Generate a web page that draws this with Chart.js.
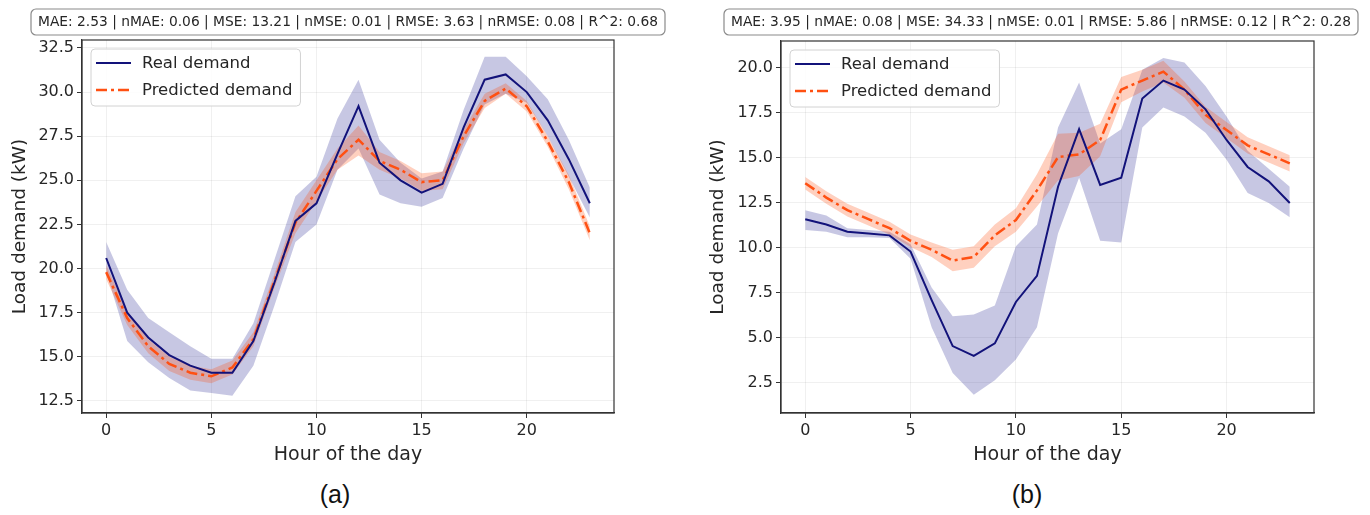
<!DOCTYPE html>
<html lang="en">
<head>
<meta charset="UTF-8">
<title>Load demand - real vs predicted</title>
<script src="https://cdn.jsdelivr.net/npm/chart.js"></script>
<style>
body { margin: 0; background: #fff; width: 1370px; height: 515px; position: relative; overflow: hidden; }
canvas { position: absolute; top: 0; }
#chartA { left: 0; }
#chartB { left: 690px; }
.sub { position: absolute; top: 480px; font-family: 'Liberation Sans', Arial, sans-serif; font-size: 25px; color: #111; transform: translateX(-50%); }
</style>
</head>
<body>
<canvas id="chartA" width="690" height="470"></canvas>
<canvas id="chartB" width="680" height="470"></canvas>
<div class="sub" style="left:335px">(a)</div>
<div class="sub" style="left:1027px">(b)</div>
<script>
var hours = [0, 1, 2, 3, 4, 5, 6, 7, 8, 9, 10, 11, 12, 13, 14, 15, 16, 17, 18, 19, 20, 21, 22, 23];

// (a)
var realA     = [20.6, 17.5, 16.1, 15.1, 14.5, 14.1, 14.1, 15.9, 19.2, 22.7, 23.7, 26.5, 29.2, 26.0, 25.0, 24.3, 24.8, 28.0, 30.7, 31.0, 30.0, 28.4, 26.2, 23.7];
var realALow  = [19.8, 15.9, 14.7, 13.8, 13.1, 12.95, 12.8, 14.5, 17.9, 21.5, 22.5, 25.6, 26.8, 24.2, 23.7, 23.5, 24.0, 26.8, 29.3, 29.9, 29.4, 27.5, 25.2, 22.9];
var realAHigh = [21.5, 18.8, 17.2, 16.4, 15.6, 14.9, 14.9, 16.9, 20.5, 24.1, 25.2, 28.5, 30.7, 27.3, 26.0, 25.1, 25.5, 29.0, 32.0, 32.0, 30.9, 29.6, 27.3, 24.6];
var predA     = [19.8, 17.2, 15.6, 14.6, 14.1, 13.9, 14.4, 16.0, 19.3, 22.6, 24.4, 26.2, 27.3, 26.1, 25.6, 24.9, 25.0, 27.5, 29.5, 30.2, 29.2, 27.2, 24.9, 22.0];
var predALow  = [19.4, 16.8, 15.2, 14.2, 13.7, 13.5, 14.0, 15.6, 18.9, 22.0, 23.8, 25.6, 26.4, 25.6, 25.1, 24.4, 24.5, 27.1, 29.1, 29.9, 28.9, 26.9, 24.5, 21.6];
var predAHigh = [20.2, 17.6, 16.0, 15.0, 14.5, 14.3, 14.8, 16.4, 19.7, 23.2, 25.0, 26.8, 28.1, 26.6, 26.1, 25.4, 25.5, 27.9, 29.9, 30.5, 29.5, 27.5, 25.3, 22.4];
var metricsA = 'MAE: 2.53 | nMAE: 0.06 | MSE: 13.21 | nMSE: 0.01 | RMSE: 3.63 | nRMSE: 0.08 | R^2: 0.68';

// (b)
var realB     = [11.6, 11.3, 10.9, 10.8, 10.7, 9.8, 7.1, 4.55, 4.0, 4.7, 7.0, 8.45, 13.4, 16.6, 13.5, 13.9, 18.3, 19.3, 18.8, 17.7, 16.0, 14.5, 13.7, 12.5];
var realBLow  = [11.0, 10.9, 10.6, 10.6, 10.55, 9.4, 5.6, 3.05, 1.85, 2.65, 3.8, 5.6, 10.8, 13.9, 10.4, 10.3, 16.7, 17.8, 17.3, 16.4, 14.9, 13.05, 12.5, 11.7];
var realBHigh = [12.1, 11.8, 11.1, 11.0, 10.9, 10.2, 7.8, 6.2, 6.3, 6.8, 10.1, 11.3, 16.7, 19.2, 15.8, 16.6, 19.9, 20.55, 20.3, 19.0, 17.3, 15.4, 14.4, 13.4];
var predB     = [13.6, 12.8, 12.1, 11.6, 11.1, 10.4, 9.9, 9.3, 9.5, 10.7, 11.55, 13.2, 15.05, 15.2, 16.0, 18.8, 19.3, 19.8, 18.8, 17.4, 16.55, 15.7, 15.2, 14.7];
var predBLow  = [13.25, 12.45, 11.75, 11.25, 10.75, 10.05, 9.5, 8.7, 8.9, 10.1, 10.9, 12.3, 13.75, 14.0, 15.1, 18.1, 18.7, 19.2, 18.35, 16.95, 16.1, 15.25, 14.75, 14.25];
var predBHigh = [13.95, 13.15, 12.45, 11.95, 11.45, 10.75, 10.3, 9.9, 10.1, 11.3, 12.2, 14.1, 16.35, 16.4, 16.9, 19.5, 19.9, 20.4, 19.25, 17.85, 17.0, 16.15, 15.65, 15.15];
var metricsB = 'MAE: 3.95 | nMAE: 0.08 | MSE: 34.33 | nMSE: 0.01 | RMSE: 5.86 | nRMSE: 0.12 | R^2: 0.28';

var NAVY = '#12127a';
var ORANGE = '#ff5012';
var NAVY_BAND = 'rgba(0,0,128,0.22)';
var ORANGE_BAND = 'rgba(255,69,0,0.25)';
var FONT = '"DejaVu Sans", sans-serif';
var TXT = '#262626';
var DASHDOT = [11, 4, 3, 4];

function roundRect(ctx, x, y, w, h, r) {
    ctx.beginPath();
    ctx.moveTo(x + r, y);
    ctx.lineTo(x + w - r, y);
    ctx.arcTo(x + w, y, x + w, y + r, r);
    ctx.lineTo(x + w, y + h - r);
    ctx.arcTo(x + w, y + h, x + w - r, y + h, r);
    ctx.lineTo(x + r, y + h);
    ctx.arcTo(x, y + h, x, y + h - r, r);
    ctx.lineTo(x, y + r);
    ctx.arcTo(x, y, x + r, y, r);
    ctx.closePath();
}

// frame on all four sides, legend inside the plot, metrics box on top
var decor = {
    id: 'decor',
    afterDatasetsDraw: function (chart, args, opts) {
        var ctx = chart.ctx, a = chart.chartArea;
        ctx.save();
        ctx.strokeStyle = '#333';
        ctx.lineWidth = 1.2;
        ctx.strokeRect(a.left, a.top, a.right - a.left, a.bottom - a.top);

        // legend
        ctx.font = '16.5px ' + FONT;
        var tw = ctx.measureText('Predicted demand').width;
        var bx = a.left + 9, by = a.top + 9, bw = 50 + tw + 9, bh = 57;
        roundRect(ctx, bx, by, bw, bh, 4);
        ctx.fillStyle = 'rgba(255,255,255,0.85)';
        ctx.fill();
        ctx.strokeStyle = '#d2d2d2';
        ctx.lineWidth = 1;
        ctx.stroke();

        var rows = [
            {text: 'Real demand', color: NAVY, width: 2, dash: []},
            {text: 'Predicted demand', color: ORANGE, width: 2.5, dash: DASHDOT}
        ];
        rows.forEach(function (r, i) {
            var y = by + 14 + i * 27;
            ctx.beginPath();
            ctx.setLineDash(r.dash);
            ctx.strokeStyle = r.color;
            ctx.lineWidth = r.width;
            ctx.moveTo(bx + 5, y);
            ctx.lineTo(bx + 40, y);
            ctx.stroke();
            ctx.setLineDash([]);
            ctx.fillStyle = TXT;
            ctx.textBaseline = 'middle';
            ctx.textAlign = 'left';
            ctx.fillText(r.text, bx + 51, y + 1);
        });
        ctx.restore();
    },
    afterDraw: function (chart, args, opts) {
        var ctx = chart.ctx;
        ctx.save();
        ctx.font = '14px ' + FONT;
        var w = ctx.measureText(opts.text).width;
        var sx = opts.textWidth / w;
        roundRect(ctx, opts.cx - opts.textWidth / 2 - 7, 9, opts.textWidth + 14, 26, 5);
        ctx.fillStyle = '#fff';
        ctx.fill();
        ctx.strokeStyle = '#8a8a8a';
        ctx.lineWidth = 1.2;
        ctx.stroke();
        ctx.fillStyle = TXT;
        ctx.textAlign = 'center';
        ctx.textBaseline = 'middle';
        ctx.translate(opts.cx, 22.5);
        ctx.scale(sx, 1);
        ctx.fillText(opts.text, 0, 0);
        ctx.restore();
    }
};

function pts(arr) {
    return hours.map(function (h, i) { return {x: h, y: arr[i]}; });
}

function buildChart(id, o) {
    var ctx = document.getElementById(id).getContext('2d');
    var hidden = 'rgba(0,0,0,0)';
    return new Chart(ctx, {
        type: 'line',
        data: {
            datasets: [
                {label: 'Real demand', data: pts(o.real), borderColor: NAVY, borderWidth: 2, pointRadius: 0, fill: false, order: 0},
                {label: 'Predicted demand', data: pts(o.pred), borderColor: ORANGE, borderWidth: 2.5, borderDash: DASHDOT, pointRadius: 0, fill: false, order: 0},
                {label: 'real low', data: pts(o.realLow), borderColor: hidden, borderWidth: 1, pointRadius: 0, fill: false, order: 2},
                {label: 'real high', data: pts(o.realHigh), borderColor: hidden, borderWidth: 1, pointRadius: 0, fill: '-1', backgroundColor: NAVY_BAND, order: 2},
                {label: 'pred low', data: pts(o.predLow), borderColor: hidden, borderWidth: 1, pointRadius: 0, fill: false, order: 1},
                {label: 'pred high', data: pts(o.predHigh), borderColor: hidden, borderWidth: 1, pointRadius: 0, fill: '-1', backgroundColor: ORANGE_BAND, order: 1}
            ]
        },
        options: {
            responsive: false,
            animation: false,
            devicePixelRatio: 1,
            layout: {padding: {top: o.top, right: o.right, left: 0, bottom: 0}},
            elements: {line: {tension: 0}},
            plugins: {
                legend: {display: false},
                tooltip: {enabled: false},
                decor: {text: o.metrics, cx: o.boxCx, textWidth: 620}
            },
            scales: {
                x: {
                    type: 'linear',
                    min: -1.15,
                    max: 24.15,
                    ticks: {stepSize: 5, includeBounds: false, maxRotation: 0, padding: 3, color: TXT, font: {family: FONT, size: 16}},
                    grid: {color: 'rgba(0,0,0,0.06)', tickColor: '#333', tickLength: 5},
                    border: {color: '#333', width: 1.2},
                    title: {display: true, text: 'Hour of the day', color: TXT, font: {family: FONT, size: 19}, padding: {top: 0, bottom: 4}},
                    afterFit: function (s) { s.height = 57; }
                },
                y: {
                    min: o.yMin,
                    max: o.yMax,
                    ticks: {stepSize: 2.5, includeBounds: false, padding: 3, color: TXT, font: {family: FONT, size: 16},
                        callback: function (v) { return v.toFixed(1); }},
                    grid: {color: 'rgba(0,0,0,0.06)', tickColor: '#333', tickLength: 5},
                    border: {color: '#333', width: 1.2},
                    title: {display: true, text: 'Load demand (kW)', color: TXT, font: {family: FONT, size: 18.5}, padding: {top: o.yTitlePad, bottom: 0}},
                    afterFit: function (s) { s.width = o.yWidth; }
                }
            }
        },
        plugins: [decor]
    });
}

buildChart('chartA', {
    real: realA, realLow: realALow, realHigh: realAHigh,
    pred: predA, predLow: predALow, predHigh: predAHigh,
    metrics: metricsA, boxCx: 348,
    yMin: 11.82, yMax: 32.95,
    top: 40, right: 76, yWidth: 82, yTitlePad: 9
});

buildChart('chartB', {
    real: realB, realLow: realBLow, realHigh: realBHigh,
    pred: predB, predLow: predBLow, predHigh: predBHigh,
    metrics: metricsB, boxCx: 351,
    yMin: 0.83, yMax: 21.5,
    top: 41, right: 56, yWidth: 91, yTitlePad: 17
});
</script>
</body>
</html>
